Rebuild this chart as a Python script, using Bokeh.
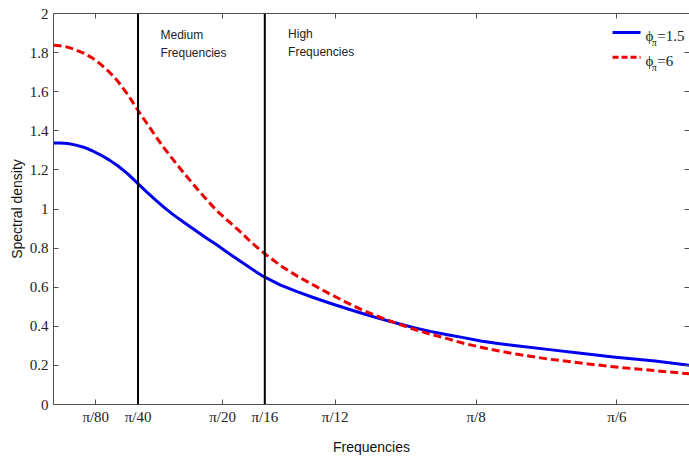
import math
from bokeh.plotting import figure
from bokeh.models import FixedTicker, LinearAxis, Span
from bokeh.core.properties import value
from bokeh.embed import file_html
from bokeh.resources import INLINE

# ---- data ----
freq_blue = [0.000, 0.006, 0.013, 0.020, 0.028, 0.036, 0.044, 0.052, 0.060, 0.069, 0.0785,
             0.087, 0.095, 0.103, 0.1115, 0.122, 0.134, 0.143, 0.152, 0.163, 0.174, 0.184,
             0.195, 0.211, 0.227, 0.242, 0.257, 0.273, 0.288, 0.304, 0.320, 0.335, 0.350,
             0.366, 0.381, 0.397, 0.413, 0.430, 0.459, 0.490, 0.520, 0.559, 0.591]
dens_blue = [1.338, 1.338, 1.335, 1.328, 1.316, 1.298, 1.276, 1.250, 1.220, 1.180, 1.130,
             1.085, 1.045, 1.007, 0.970, 0.928, 0.882, 0.848, 0.816, 0.772, 0.732, 0.694,
             0.655, 0.611, 0.576, 0.546, 0.518, 0.490, 0.464, 0.438, 0.414, 0.393, 0.374,
             0.357, 0.342, 0.325, 0.312, 0.300, 0.282, 0.262, 0.243, 0.222, 0.201]
freq_red = [0.000, 0.006, 0.013, 0.020, 0.028, 0.036, 0.044, 0.052, 0.060, 0.069, 0.0785,
            0.087, 0.095, 0.103, 0.1115, 0.122, 0.134, 0.143, 0.152, 0.163, 0.174, 0.184,
            0.195, 0.211, 0.227, 0.242, 0.257, 0.273, 0.288, 0.304, 0.320, 0.335, 0.350,
            0.366, 0.381, 0.397, 0.413, 0.430, 0.459, 0.490, 0.520, 0.559, 0.591]
dens_red = [1.837, 1.835, 1.828, 1.816, 1.797, 1.773, 1.740, 1.700, 1.652, 1.585, 1.505,
            1.436, 1.372, 1.310, 1.250, 1.178, 1.100, 1.043, 0.990, 0.935, 0.882, 0.828,
            0.777, 0.710, 0.655, 0.610, 0.565, 0.520, 0.480, 0.445, 0.413, 0.385, 0.360,
            0.337, 0.313, 0.293, 0.275, 0.258, 0.233, 0.212, 0.193, 0.173, 0.157]

x_ticks = [math.pi / 80, math.pi / 40, math.pi / 20, math.pi / 16, math.pi / 12, math.pi / 8, math.pi / 6]
x_tick_labels = ["\u03c0/80", "\u03c0/40", "\u03c0/20", "\u03c0/16", "\u03c0/12", "\u03c0/8", "\u03c0/6"]
y_ticks = [0, 0.2, 0.4, 0.6, 0.8, 1.0, 1.2, 1.4, 1.6, 1.8, 2.0]
y_tick_labels = ["0", "0.2", "0.4", "0.6", "0.8", "1", "1.2", "1.4", "1.6", "1.8", "2"]
band_edges = [math.pi / 40, math.pi / 16]
band_names = ["Medium\nFrequencies", "High\nFrequencies"]
series_names = ["1.5", "6"]

SERIF = "Liberation Serif"
SANS = "Liberation Sans"
AX = "#505050"

p = figure(width=689, height=457, x_range=(0, 0.591), y_range=(0, 2),
           output_backend="svg", toolbar_location=None,
           min_border_left=53, min_border_right=0, min_border_top=13, min_border_bottom=52)
p.grid.visible = False
p.outline_line_color = None
p.background_fill_color = "white"
p.border_fill_color = "white"

def style_axis(ax, ticks, labels):
    ax.ticker = FixedTicker(ticks=ticks)
    ax.major_tick_in = 5
    ax.major_tick_out = 0
    ax.minor_tick_line_color = None
    ax.axis_line_color = AX
    ax.major_tick_line_color = AX
    ax.major_label_overrides = {t: l for t, l in zip(ticks, labels)}
    ax.major_label_text_font = SERIF
    ax.major_label_text_font_size = "15px"
    ax.major_label_text_color = "#222222"

xa = p.xaxis[0]
style_axis(xa, x_ticks, x_tick_labels)
xa.major_label_standoff = 4
xa.axis_label = "Frequencies"
xa.axis_label_text_font = SANS
xa.axis_label_text_font_style = "normal"
xa.axis_label_text_font_size = "14px"
xa.axis_label_text_color = "#111111"
xa.axis_label_standoff = 11

ya = p.yaxis[0]
style_axis(ya, y_ticks, y_tick_labels)
ya.major_label_standoff = 5
ya.axis_label = "Spectral density"
ya.axis_label_text_font = SANS
ya.axis_label_text_font_style = "normal"
ya.axis_label_text_font_size = "14px"
ya.axis_label_text_color = "#111111"
ya.axis_label_standoff = 2

top = LinearAxis()
style_axis(top, x_ticks, [""] * len(x_ticks))
top.major_label_standoff = 0
p.add_layout(top, "above")
right = LinearAxis()
style_axis(right, y_ticks, [""] * len(y_ticks))
right.major_label_standoff = 0
right.axis_line_color = None
p.add_layout(right, "right")

for e in band_edges:
    p.add_layout(Span(location=e, dimension="height", line_color="black", line_width=2))

p.line(freq_blue, dens_blue, line_color="#0000ee", line_width=3, line_join="round")
p.line(freq_red, dens_red, line_color="#ee0000", line_width=3, line_dash="8 4", line_join="round")

# band annotations
p.text(x=[0.0994, 0.218], y=[1.925, 1.930], text=band_names,
       text_font=value(SANS), text_font_size="12px", text_color="#222222",
       text_baseline="top", text_align="left", text_line_height=1.25)

# legend (drawn manually for the subscript)
leg_y_line = [1.903, 1.776]
leg_y_base = [1.883, 1.755]
p.segment(x0=[0.5195], y0=[leg_y_line[0]], x1=[0.5455], y1=[leg_y_line[0]],
          line_color="#0000ee", line_width=3)
p.segment(x0=[0.5195], y0=[leg_y_line[1]], x1=[0.5455], y1=[leg_y_line[1]],
          line_color="#ee0000", line_width=3, line_dash="6 3")
p.text(x=[0.550, 0.550], y=leg_y_base, text=["\u03d5", "\u03d5"],
       text_font=value(SERIF), text_font_size="15px", text_color="#222222",
       text_baseline="alphabetic", text_align="left")
p.text(x=[0.5560, 0.5560], y=[b - 0.032 for b in leg_y_base], text=["\u03c0", "\u03c0"],
       text_font=value(SERIF), text_font_size="10px", text_color="#222222",
       text_baseline="alphabetic", text_align="left")
p.text(x=[0.5610, 0.5610], y=leg_y_base, text=["=" + s for s in series_names],
       text_font=value(SERIF), text_font_size="15px", text_color="#222222",
       text_baseline="alphabetic", text_align="left")

open("out.html", "w").write(file_html(p, INLINE))
